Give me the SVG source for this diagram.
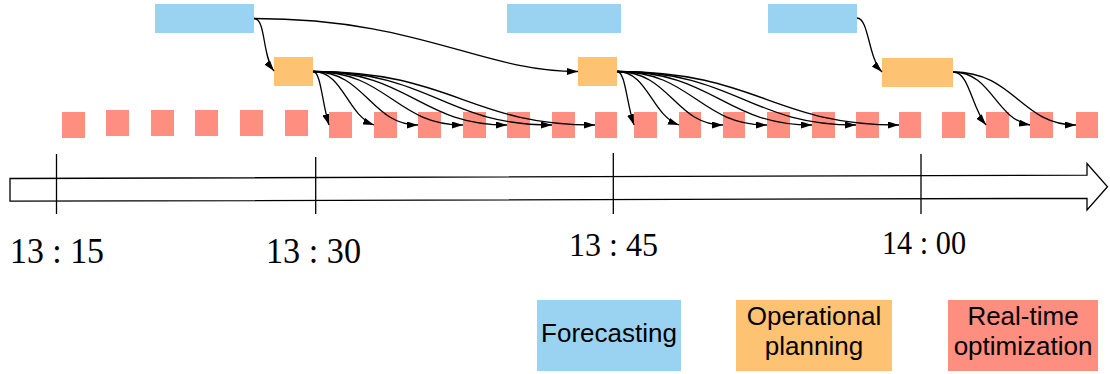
<svg xmlns="http://www.w3.org/2000/svg" width="1110" height="374" viewBox="0 0 1110 374">
<style>
.fc{fill:#9AD3F2}
.op{fill:#FEC372}
.rt{fill:#FE8E7F}
.cn{fill:none;stroke:#000;stroke-width:1.3;marker-end:url(#ah)}
.ax{fill:#fff;stroke:#000;stroke-width:1.3}
.tk{stroke:#000;stroke-width:1.3}
.tl{font-family:"Liberation Serif","Times New Roman",serif;fill:#000}
.lg{font-family:"Liberation Sans",Arial,sans-serif;font-size:26px;fill:#000;text-anchor:middle}
</style>
<defs>
<marker id="ah" markerUnits="userSpaceOnUse" markerWidth="11" markerHeight="7" refX="11" refY="3.5" orient="auto">
<path d="M0,0 L11,3.5 L0,7 z" fill="#000"/>
</marker>
</defs>

<g id="axis">
<polygon class="ax" points="10,178.5 1087,175.2 1087,163.5 1107.5,186.7 1087,210 1087,198.3 10,201.2"/>
<line class="tk" x1="56.5" y1="154" x2="56.5" y2="214"/>
<line class="tk" x1="315.7" y1="157" x2="315.7" y2="214"/>
<line class="tk" x1="613.3" y1="153" x2="613.3" y2="214"/>
<line class="tk" x1="921" y1="154" x2="921" y2="214"/>
<text class="tl" x="10" y="263" font-size="35" textLength="94" lengthAdjust="spacingAndGlyphs">13 : 15</text>
<text class="tl" x="266" y="263" font-size="35" textLength="95" lengthAdjust="spacingAndGlyphs">13 : 30</text>
<text class="tl" x="569" y="256" font-size="34" textLength="89" lengthAdjust="spacingAndGlyphs">13 : 45</text>
<text class="tl" x="882" y="254" font-size="33" textLength="84" lengthAdjust="spacingAndGlyphs">14 : 00</text>
</g>

<g id="forecast-1"><rect class="fc" x="155" y="4" width="99" height="29"/></g>
<g id="forecast-2"><rect class="fc" x="507" y="4" width="114" height="29"/></g>
<g id="forecast-3"><rect class="fc" x="768" y="4" width="89" height="29"/></g>

<g id="planning-1"><rect class="op" x="274" y="57" width="39" height="29"/></g>
<g id="planning-2"><rect class="op" x="578" y="57" width="39" height="29"/></g>
<g id="planning-3"><rect class="op" x="882" y="58" width="71" height="29"/></g>

<g id="rt-1"><rect class="rt" x="62" y="112" width="23" height="26"/></g>
<g id="rt-2"><rect class="rt" x="106" y="110" width="23" height="26"/></g>
<g id="rt-3"><rect class="rt" x="151" y="110" width="23" height="26"/></g>
<g id="rt-4"><rect class="rt" x="195" y="110" width="23" height="26"/></g>
<g id="rt-5"><rect class="rt" x="240" y="110" width="23" height="26"/></g>
<g id="rt-6"><rect class="rt" x="285" y="110" width="23" height="26"/></g>
<g id="rt-7"><rect class="rt" x="329" y="112" width="23" height="26"/></g>
<g id="rt-8"><rect class="rt" x="374" y="112" width="23" height="26"/></g>
<g id="rt-9"><rect class="rt" x="418" y="112" width="23" height="26"/></g>
<g id="rt-10"><rect class="rt" x="463" y="112" width="23" height="26"/></g>
<g id="rt-11"><rect class="rt" x="507" y="112" width="23" height="26"/></g>
<g id="rt-12"><rect class="rt" x="552" y="112" width="23" height="26"/></g>
<g id="rt-13"><rect class="rt" x="595" y="112" width="22" height="26"/></g>
<g id="rt-14"><rect class="rt" x="634" y="112" width="23" height="26"/></g>
<g id="rt-15"><rect class="rt" x="679" y="112" width="22" height="26"/></g>
<g id="rt-16"><rect class="rt" x="723" y="112" width="22" height="26"/></g>
<g id="rt-17"><rect class="rt" x="767" y="112" width="23" height="26"/></g>
<g id="rt-18"><rect class="rt" x="812" y="112" width="23" height="26"/></g>
<g id="rt-19"><rect class="rt" x="856" y="112" width="23" height="26"/></g>
<g id="rt-20"><rect class="rt" x="899" y="112" width="22" height="26"/></g>
<g id="rt-21"><rect class="rt" x="942" y="112" width="23" height="26"/></g>
<g id="rt-22"><rect class="rt" x="986" y="112" width="23" height="26"/></g>
<g id="rt-23"><rect class="rt" x="1030" y="112" width="23" height="26"/></g>
<g id="rt-24"><rect class="rt" x="1076" y="112" width="22" height="26"/></g>

<g id="connectors">
<path class="cn" d="M254 18.5 C266 18.5 262 56 274 71"/>
<path class="cn" d="M254 18.5 C420 18.5 480 71.5 578 71.5"/>
<path class="cn" d="M857 18 C869 18 868 58 882 72"/>

<path class="cn" d="M313 71.5 C321 71.5 321.8 102.5 329 125"/>
<path class="cn" d="M313 71.5 C343.5 71.5 346.5 114.6 374 125"/>
<path class="cn" d="M313 71.5 C365.5 71.5 370.8 125 418 125"/>
<path class="cn" d="M313 71.5 C388 71.5 395.5 125 463 125"/>
<path class="cn" d="M313 71.5 C410 71.5 419.7 125 507 125"/>
<path class="cn" d="M313 71.5 C432.5 71.5 444.5 125 552 125"/>
<path class="cn" d="M313 71.5 C454 71.5 468.1 125 595 125"/>

<path class="cn" d="M617 71.5 C625.5 71.5 626.4 102.8 634 125"/>
<path class="cn" d="M617 71.5 C648 71.5 651.1 114.8 679 125"/>
<path class="cn" d="M617 71.5 C670 71.5 675.3 125 723 125"/>
<path class="cn" d="M617 71.5 C692 71.5 699.5 125 767 125"/>
<path class="cn" d="M617 71.5 C714.5 71.5 724.3 125 812 125"/>
<path class="cn" d="M617 71.5 C736.5 71.5 748.5 125 856 125"/>
<path class="cn" d="M617 71.5 C758 71.5 772.1 125 899 125"/>

<path class="cn" d="M953 72 C969.5 72 971.2 107.2 986 125"/>
<path class="cn" d="M953 72 C991.5 72 995.4 118.9 1030 125"/>
<path class="cn" d="M953 72 C1014.5 72 1020.7 125 1076 125"/>
</g>

<g id="legend-forecasting">
<rect class="fc" x="537" y="300" width="144" height="71"/>
<text class="lg" x="609" y="342">Forecasting</text>
</g>
<g id="legend-planning">
<rect class="op" x="736" y="300" width="156" height="71"/>
<text class="lg" x="814" y="325">Operational</text>
<text class="lg" x="814" y="355">planning</text>
</g>
<g id="legend-realtime">
<rect class="rt" x="948" y="300" width="150" height="71"/>
<text class="lg" x="1023" y="325">Real-time</text>
<text class="lg" x="1023" y="355">optimization</text>
</g>
</svg>
